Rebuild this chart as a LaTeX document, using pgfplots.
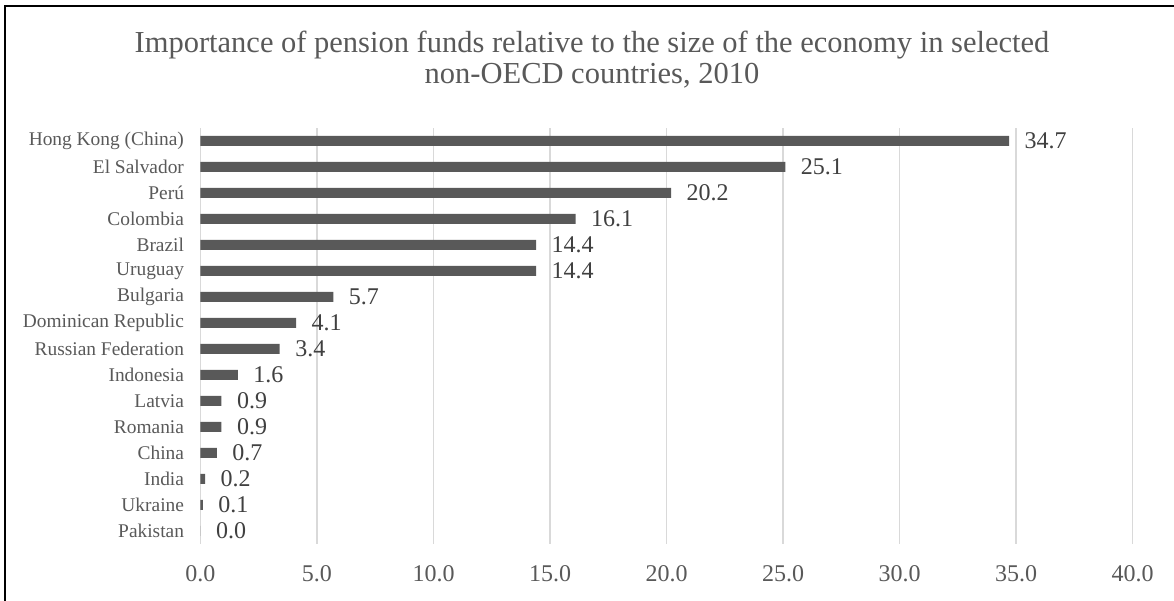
\documentclass[border=0pt]{standalone}
\usepackage{pgfplots}
\pgfplotsset{compat=1.18}
\usepackage{fontspec}
\setmainfont{Liberation Serif}
\definecolor{barc}{HTML}{595959}
\definecolor{gridc}{HTML}{D9D9D9}
\definecolor{txtc}{HTML}{595959}
\definecolor{lblc}{HTML}{404040}
\begin{document}
\begin{tikzpicture}
\useasboundingbox (-200.5pt,-57pt) rectangle (973.5pt,544pt);
\draw[line width=2pt] (-195.5pt,-70pt) -- (-195.5pt,537.5pt) -- (990pt,537.5pt);
\node[font=\fontsize{30.5}{31}\selectfont, text=txtc, align=center] at (391.5pt,484.5pt) {Importance of pension funds relative to the size of the economy in selected\\non-OECD countries, 2010};
\begin{axis}[at={(0pt,0pt)}, anchor=south west, width=932pt, height=416pt, scale only axis,
  xbar, bar width=10pt, xmin=0, xmax=40, ymin=-0.5, ymax=15.5,
  xtick={0,5,...,40}, ytick={0,...,15},
  yticklabels={Pakistan,Ukraine,India,China,Romania,Latvia,Indonesia,Russian Federation,Dominican Republic,Bulgaria,Uruguay,Brazil,Colombia,Perú,El Salvador,Hong Kong (China)},
  axis line style={draw=none}, major tick length=0pt,
  xmajorgrids, major grid style={gridc, line width=1.5pt},
  /pgf/number format/assume math mode=true,
  xticklabel={\pgfmathprintnumber[fixed,fixed zerofill,precision=1]{\tick}},
  xticklabel style={font=\fontsize{24}{24}\selectfont, text=txtc, yshift=-18pt},
  yticklabel style={font=\fontsize{19.4}{19.4}\selectfont, text=txtc, xshift=-13pt},
  point meta=x,
  nodes near coords={\pgfmathprintnumber[fixed,fixed zerofill,precision=1]{\pgfplotspointmeta}},
  nodes near coords style={font=\fontsize{24}{24}\selectfont, text=lblc, anchor=west, xshift=12pt},
]
\addplot[fill=barc, draw=none] coordinates {(0.0,0) (0.1,1) (0.2,2) (0.7,3) (0.9,4) (0.9,5) (1.6,6) (3.4,7) (4.1,8) (5.7,9) (14.4,10) (14.4,11) (16.1,12) (20.2,13) (25.1,14) (34.7,15)};
\end{axis}
\end{tikzpicture}
\end{document}
